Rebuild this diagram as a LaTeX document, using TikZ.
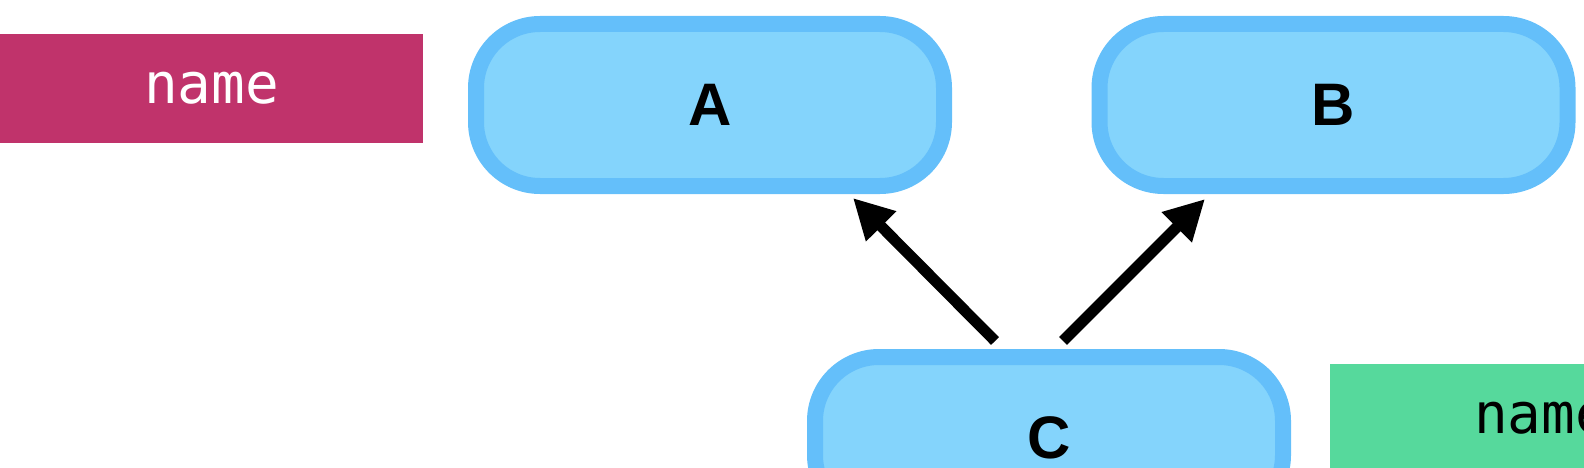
\documentclass[tikz,border=0pt]{standalone}
\usepackage{fontspec}
\setsansfont{Liberation Sans}
\setmonofont{DejaVu Sans Mono}
\usetikzlibrary{arrows.meta}
\definecolor{boxline}{HTML}{64BFFA}
\definecolor{boxfill}{HTML}{84D4FC}
\definecolor{pinktag}{HTML}{C0336B}
\definecolor{greentag}{HTML}{56D99C}

\begin{document}
\begin{tikzpicture}[x=1pt,y=-1pt,
    task/.style={draw=boxline,fill=boxfill,line width=16pt,rounded corners=64pt,
        minimum width=468pt,minimum height=162pt,
        font=\fontsize{60}{72}\selectfont\sffamily\bfseries},
    tag/.style={anchor=north west,outer sep=0pt,minimum width=423pt,minimum height=109pt,
        font=\fontsize{56}{66}\selectfont\ttfamily},
    dep/.style={line width=11pt,-{Triangle[length=40pt,width=40pt]}}]
\useasboundingbox (0,0) rectangle (1584,468);
\clip (0,0) rectangle (1584,468);
\node [tag,fill=pinktag,text=white] (p) at (0,34) {name};
\node [tag,fill=greentag,text=black] (g) at (1330,364) {name};
\node [task] (a) at (710,105) {A};
\node [task] (b) at (1333.5,105) {B};
\node [task] (c) at (1049,438) {C};
\draw [dep] ([shift={(-54,-8)}]c.north) -- ([shift={(143,4)}]a.south);
\draw [dep] ([shift={(14,-8)}]c.north) -- ([shift={(-128.5,5)}]b.south);
\end{tikzpicture}
\end{document}
